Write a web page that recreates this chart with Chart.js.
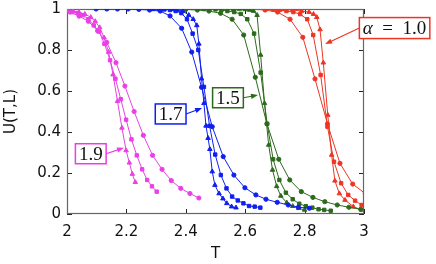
<!DOCTYPE html>
<html>
<head>
<meta charset="utf-8">
<script src="https://cdn.jsdelivr.net/npm/chart.js@4/dist/chart.umd.min.js"></script>
<style>
	html, body { margin: 0; padding: 0; background: #fff; }
	canvas { display: block; }
</style>
</head>
<body>
<canvas id="chart" width="436" height="264" style="width:436px;height:264px"></canvas>
<script>
// alpha = 1.9 (magenta)
var magCircT = [ 2.010, 2.041, 2.072, 2.103, 2.134, 2.165, 2.195, 2.226, 2.257, 2.288, 2.320, 2.351, 2.383, 2.414, 2.444 ];
var magCircU = [ 0.985, 0.965, 0.940, 0.893, 0.837, 0.738, 0.624, 0.500, 0.384, 0.286, 0.218, 0.163, 0.125, 0.100, 0.078 ];
var magSqT   = [ 2.000, 2.018, 2.036, 2.054, 2.072, 2.090, 2.108, 2.126, 2.145, 2.163, 2.181, 2.199, 2.217, 2.235, 2.253, 2.270, 2.286, 2.302 ];
var magSqU   = [ 0.990, 0.985, 0.980, 0.970, 0.950, 0.920, 0.890, 0.830, 0.750, 0.660, 0.560, 0.460, 0.364, 0.286, 0.218, 0.166, 0.135, 0.109 ];
var magTriT  = [ 2.000, 2.020, 2.040, 2.060, 2.080, 2.095, 2.110, 2.125, 2.140, 2.155, 2.170, 2.185, 2.199, 2.210, 2.220, 2.230 ];
var magTriU  = [ 0.995, 0.990, 0.985, 0.975, 0.960, 0.940, 0.910, 0.860, 0.790, 0.680, 0.550, 0.420, 0.310, 0.250, 0.195, 0.155 ];

// alpha = 1.7 (blue)
var bluCircT = [ 2.098, 2.134, 2.170, 2.206, 2.242, 2.278, 2.314, 2.347, 2.386, 2.420, 2.453, 2.489, 2.526, 2.562, 2.599, 2.636, 2.670, 2.708, 2.745, 2.779, 2.816 ];
var bluCircU = [ 1.000, 1.000, 1.000, 1.000, 0.998, 0.995, 0.990, 0.966, 0.906, 0.790, 0.618, 0.426, 0.280, 0.190, 0.128, 0.093, 0.072, 0.057, 0.044, 0.033, 0.028 ];
var bluSqT   = [ 2.290, 2.309, 2.328, 2.347, 2.366, 2.385, 2.404, 2.423, 2.442, 2.461, 2.480, 2.499, 2.518, 2.537, 2.556, 2.575, 2.594, 2.613, 2.632, 2.651 ];
var bluSqU   = [ 1.000, 1.000, 0.998, 0.995, 0.990, 0.980, 0.950, 0.880, 0.800, 0.620, 0.430, 0.290, 0.190, 0.125, 0.085, 0.066, 0.052, 0.039, 0.036, 0.031 ];
var bluTriT  = [ 2.350, 2.370, 2.390, 2.410, 2.425, 2.437, 2.444, 2.453, 2.461, 2.468, 2.475, 2.481, 2.489, 2.498, 2.512, 2.525, 2.538, 2.554, 2.569 ];
var bluTriU  = [ 1.000, 0.995, 0.990, 0.970, 0.950, 0.920, 0.830, 0.660, 0.540, 0.430, 0.370, 0.316, 0.207, 0.141, 0.100, 0.075, 0.052, 0.036, 0.031 ];

// alpha = 1.5 (green)
var grnCircT = [ 2.361, 2.400, 2.439, 2.478, 2.517, 2.556, 2.595, 2.634, 2.673, 2.713, 2.750, 2.789, 2.828, 2.868, 2.910, 2.949, 2.989 ];
var grnCircU = [ 1.000, 0.998, 0.995, 0.990, 0.979, 0.950, 0.873, 0.667, 0.440, 0.267, 0.166, 0.109, 0.081, 0.060, 0.044, 0.033, 0.023 ];
var grnSqT   = [ 2.460, 2.480, 2.500, 2.520, 2.540, 2.563, 2.585, 2.607, 2.630, 2.652, 2.674, 2.694, 2.715, 2.737, 2.760, 2.782, 2.804, 2.826, 2.847, 2.866, 2.888 ];
var grnSqU   = [ 1.000, 1.000, 0.998, 0.995, 0.990, 0.985, 0.976, 0.950, 0.880, 0.690, 0.440, 0.267, 0.166, 0.104, 0.072, 0.050, 0.038, 0.031, 0.023, 0.020, 0.016 ];
var grnTriT  = [ 2.560, 2.580, 2.600, 2.615, 2.628, 2.640, 2.652, 2.665, 2.679, 2.692, 2.706, 2.720, 2.740, 2.760, 2.780, 2.800 ];
var grnTriU  = [ 1.000, 1.000, 0.998, 0.995, 0.990, 0.970, 0.776, 0.540, 0.337, 0.215, 0.135, 0.088, 0.055, 0.038, 0.028, 0.020 ];

// alpha = 1.0 (red)
var redCircT = [ 2.625, 2.667, 2.709, 2.751, 2.794, 2.835, 2.877, 2.919, 2.962, 3.004 ];
var redCircU = [ 1.000, 0.995, 0.985, 0.950, 0.862, 0.659, 0.440, 0.247, 0.146, 0.100 ];
var redSqT   = [ 2.670, 2.693, 2.716, 2.739, 2.762, 2.785, 2.809, 2.829, 2.854, 2.877, 2.899, 2.923, 2.947, 2.970, 2.992 ];
var redSqU   = [ 1.000, 0.998, 0.995, 0.990, 0.985, 0.975, 0.950, 0.873, 0.678, 0.426, 0.255, 0.150, 0.093, 0.065, 0.044 ];
var redTriT  = [ 2.700, 2.730, 2.760, 2.790, 2.815, 2.830, 2.841, 2.852, 2.863, 2.878, 2.891, 2.902, 2.917, 2.936, 2.964, 2.992 ];
var redTriU  = [ 1.000, 0.998, 0.995, 0.990, 0.985, 0.975, 0.960, 0.900, 0.738, 0.483, 0.288, 0.162, 0.100, 0.068, 0.036, 0.020 ];

var xTicks = [ '2', '2.2', '2.4', '2.6', '2.8', '3' ];
var yTicks = [ '0', '0.2', '0.4', '0.6', '0.8', '1' ];

// boxed labels: text, box centre (T, U), arrow tip (T, U)
var labelText = [ '1.9', '1.7', '1.5', 'α\u2002=\u20021.0' ];
var labelT    = [ 2.080, 2.349, 2.542, 3.103 ];
var labelU    = [ 0.294, 0.488, 0.567, 0.907 ];
var arrowT    = [ 2.192, 2.455, 2.643, 2.869 ];
var arrowU    = [ 0.323, 0.517, 0.580, 0.829 ];

var COLORS = {
	magenta: '#e940e6',
	blue:    '#0f1ff0',
	green:   '#2b6a1c',
	red:     '#ee3524',
};
var labelColor = [ COLORS.magenta, COLORS.blue, COLORS.green, COLORS.red ];

function pts( ts, us ) {
	var out = [];
	for ( var i = 0; i < ts.length; i++ ) {
		out.push( { x: ts[ i ], y: us[ i ] } );
	}
	return out;
}

function series( ts, us, color, style ) {
	return {
		data:             pts( ts, us ),
		borderColor:      color,
		backgroundColor:  color,
		borderWidth:      1,
		pointStyle:       style,
		pointRadius:      style === 'triangle' ? 2.6 : ( style === 'rect' ? 2.4 : 2.1 ),
		pointBorderWidth: 1,
		tension:          0,
	};
}

var frameTicks = {
	id: 'frameTicks',
	beforeDatasetsDraw: function ( chart ) {
		var a   = chart.chartArea;
		var ctx = chart.ctx;
		var xs  = chart.scales.x;
		var ys  = chart.scales.y;
		ctx.save();
		ctx.strokeStyle = '#222';
		ctx.lineWidth   = 1;
		ctx.beginPath();
		xs.ticks.forEach( function ( t ) {
			var px = Math.round( xs.getPixelForValue( t.value ) ) + 0.5;
			ctx.moveTo( px, a.bottom );
			ctx.lineTo( px, a.bottom - 5 );
			ctx.moveTo( px, a.top );
			ctx.lineTo( px, a.top + 5 );
		} );
		ys.ticks.forEach( function ( t ) {
			var py = Math.round( ys.getPixelForValue( t.value ) ) + 0.5;
			ctx.moveTo( a.left, py );
			ctx.lineTo( a.left + 5, py );
			ctx.moveTo( a.right, py );
			ctx.lineTo( a.right - 5, py );
		} );
		ctx.stroke();
		ctx.strokeStyle = '#666';
		ctx.lineWidth   = 1.2;
		ctx.strokeRect( a.left + 0.5, a.top + 0.5, a.width - 1, a.height - 1 );
		ctx.restore();
	},
};

var boxLabels = {
	id: 'boxLabels',
	afterDatasetsDraw: function ( chart ) {
		var ctx = chart.ctx;
		var xs  = chart.scales.x;
		var ys  = chart.scales.y;
		ctx.save();
		for ( var i = 0; i < labelText.length; i++ ) {
			var cx = xs.getPixelForValue( labelT[ i ] );
			var cy = ys.getPixelForValue( labelU[ i ] );
			var tx = xs.getPixelForValue( arrowT[ i ] );
			var ty = ys.getPixelForValue( arrowU[ i ] );
			var txt = labelText[ i ];
			var greek = txt.charAt( 0 ) === 'α';
			var rest  = greek ? txt.slice( 1 ) : txt;

			ctx.font = '19px "Liberation Serif", serif';
			var wRest = ctx.measureText( rest ).width;
			ctx.font = 'italic 19px "Liberation Serif", serif';
			var wGreek = greek ? ctx.measureText( 'α' ).width : 0;
			var w = wRest + wGreek + 7;
			var h = greek ? 21 : 20;
			var left = cx - w / 2;
			var top  = cy - h / 2;

			// arrow
			var sx = tx < cx ? left : left + w;
			var sy = cy;
			var ang = Math.atan2( ty - sy, tx - sx );
			ctx.strokeStyle = labelColor[ i ];
			ctx.fillStyle   = labelColor[ i ];
			ctx.lineWidth   = 1.2;
			ctx.beginPath();
			ctx.moveTo( sx, sy );
			ctx.lineTo( tx - 5 * Math.cos( ang ), ty - 5 * Math.sin( ang ) );
			ctx.stroke();
			ctx.beginPath();
			ctx.moveTo( tx, ty );
			ctx.lineTo( tx - 7 * Math.cos( ang ) + 2.6 * Math.sin( ang ), ty - 7 * Math.sin( ang ) - 2.6 * Math.cos( ang ) );
			ctx.lineTo( tx - 7 * Math.cos( ang ) - 2.6 * Math.sin( ang ), ty - 7 * Math.sin( ang ) + 2.6 * Math.cos( ang ) );
			ctx.closePath();
			ctx.fill();

			// box
			ctx.fillStyle = '#fff';
			ctx.fillRect( left, top, w, h );
			ctx.lineWidth = 1.5;
			ctx.strokeRect( left, top, w, h );

			// text
			ctx.fillStyle    = '#111';
			ctx.textBaseline = 'middle';
			ctx.textAlign    = 'left';
			var x0 = left + 3.5;
			if ( greek ) {
				ctx.font = 'italic 19px "Liberation Serif", serif';
				ctx.fillText( 'α', x0, cy + 1 );
				x0 += wGreek;
			}
			ctx.font = '19px "Liberation Serif", serif';
			ctx.fillText( rest, x0, cy + 1 );
		}
		ctx.restore();
	},
};

var tickFont = { family: '"DejaVu Sans", sans-serif', size: 15 };

new Chart( document.getElementById( 'chart' ), {
	type: 'line',
	data: {
		datasets: [
			series( magCircT, magCircU, COLORS.magenta, 'circle' ),
			series( magSqT,   magSqU,   COLORS.magenta, 'rect' ),
			series( magTriT,  magTriU,  COLORS.magenta, 'triangle' ),
			series( bluCircT, bluCircU, COLORS.blue,    'circle' ),
			series( bluSqT,   bluSqU,   COLORS.blue,    'rect' ),
			series( bluTriT,  bluTriU,  COLORS.blue,    'triangle' ),
			series( grnCircT, grnCircU, COLORS.green,   'circle' ),
			series( grnSqT,   grnSqU,   COLORS.green,   'rect' ),
			series( grnTriT,  grnTriU,  COLORS.green,   'triangle' ),
			series( redCircT, redCircU, COLORS.red,     'circle' ),
			series( redSqT,   redSqU,   COLORS.red,     'rect' ),
			series( redTriT,  redTriU,  COLORS.red,     'triangle' ),
		],
	},
	options: {
		responsive: false,
		animation:  false,
		devicePixelRatio: 1,
		layout: { padding: { left: 0, right: 72, top: 9, bottom: 0 } },
		plugins: {
			legend:  { display: false },
			tooltip: { enabled: false },
		},
		scales: {
			x: {
				type: 'linear',
				min: 2,
				max: 3,
				grid:   { display: false, drawTicks: false },
				border: { display: false },
				ticks: {
					stepSize: 0.2,
					padding:  9,
					color:    '#111',
					font:     tickFont,
					maxRotation: 0,
					callback: function ( v, i ) { return xTicks[ i ]; },
				},
				title: { display: true, text: 'T', color: '#111', font: tickFont, padding: { top: 0, bottom: 1 } },
				afterFit: function ( s ) {
					s.height       = 50;
					s.paddingLeft  = 0;
					s.paddingRight = 0;
				},
			},
			y: {
				min: 0,
				max: 1,
				grid:   { display: false, drawTicks: false },
				border: { display: false },
				ticks: {
					stepSize: 0.2,
					padding:  6,
					color:    '#111',
					font:     tickFont,
					callback: function ( v, i ) { return yTicks[ i ]; },
				},
				title: { display: true, text: 'U(T,L)', color: '#111', font: tickFont, padding: { top: 2, bottom: 0 } },
				afterFit: function ( s ) {
					s.width         = 67;
					s.paddingTop    = 0;
					s.paddingBottom = 0;
				},
			},
		},
	},
	plugins: [ frameTicks, boxLabels ],
} );
</script>
</body>
</html>
